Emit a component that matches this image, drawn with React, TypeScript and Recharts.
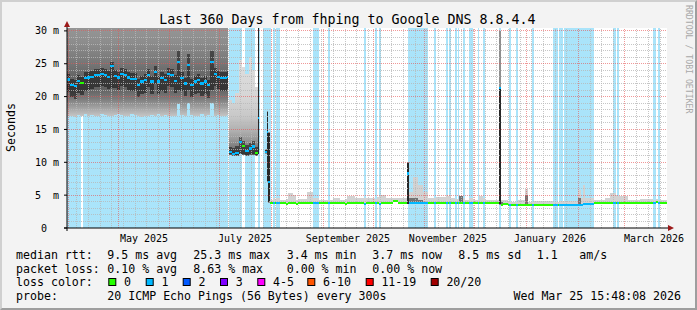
import React from 'react';
import { ComposedChart, Area, XAxis, YAxis, CartesianGrid, ReferenceLine, ReferenceDot } from 'recharts';

const W = 697;
const H = 310;
const FONT = '"DejaVu Sans Mono", monospace';
const Y_MAX = 30.44;
const X_MAX = 360;
const MEDIAN_HALF = 0.16;

const TITLE = 'Last 360 Days from fhping to Google DNS 8.8.4.4';
const Y_LABEL = 'Seconds';
const WATERMARK = 'RRDTOOL / TOBI OETIKER';

// ---------- axes ----------
const yTickValues = [0, 5, 10, 15, 20, 25, 30];
const yTickLabels = [' 0', '5  m', '10 m', '15 m', '20 m', '25 m', '30 m'];
const yMinorGrid = [1, 2, 3, 4, 6, 7, 8, 9, 11, 12, 13, 14, 16, 17, 18, 19, 21, 22, 23, 24, 26, 27, 28, 29];
const yMajorGrid = [5, 10, 15, 20, 25, 30];
// days since start of window (31 Mar 2025)
const xLabelDays = [46.2, 106.8, 168.6, 228.6, 289.8, 352.2];
const xLabels = ['May 2025', 'July 2025', 'September 2025', 'November 2025', 'January 2026', 'March 2026'];
const monthStartDays = [0.7, 30.7, 61.7, 91.7, 122.7, 153.7, 183.7, 214.7, 244.7, 275.7, 306.7, 334.7];
const weekGridDays = [5.8, 12.8, 19.8, 26.8, 33.8, 40.8, 47.8, 54.8, 68.8, 75.8, 82.8, 89.8, 96.8, 103.8, 110.8,
  117.8, 124.8, 131.8, 138.8, 145.8, 152.8, 159.8, 166.8, 173.8, 180.8, 187.8, 194.8, 201.8, 208.8, 215.8, 222.8,
  229.8, 236.8, 243.8, 250.8, 257.8, 264.8, 271.8, 278.8, 285.8, 292.8, 299.8, 313.8, 320.8, 327.8, 341.8, 348.8, 355.8];

// ---------- loss background bands (days) ----------
const lossBands = [
  [0, 8.4], [9.6, 96.8], [97.4, 105], [107, 113], [114.4, 116], [117.4, 122.2], [123.3, 124.5], [125.1, 127.5],
  [147.6, 151.2], [156.6, 157.8], [178.2, 179.4], [184.8, 186.0], [187.2, 188.4], [204.6, 216.6], [220.2, 221.4],
  [227.4, 228.6], [229.2, 230.4], [232.8, 234.0], [234.6, 235.2], [237.6, 238.8], [241.2, 243.6], [246.6, 247.2],
  [249.6, 250.8], [259.2, 260.4], [265.2, 266.4], [269.4, 270.6], [279.0, 280.2], [291.6, 294.6], [295.2, 297.6],
  [298.2, 316.2], [327.6, 329.4], [330.0, 331.2], [351.6, 353.4], [354.6, 355.8],
];

// ---------- region A (Apr - Jul 2025) ----------
const aEdges = [0, 2, 4, 6, 8, 10, 12, 14, 16, 18, 20, 22, 24, 26, 28, 30, 32, 34, 36, 38, 40, 42, 44, 46, 48, 50,
  52, 54, 56, 58, 60, 62, 64, 66, 68, 70, 72, 74, 76, 78, 80, 82, 84, 86, 88, 90, 92, 94, 96, 96.8];
const aMedian = [22.6, 21.8, 21.6, 22.4, 22.1, 22.8, 22.9, 23.0, 23.3, 23.3,
  23.5, 23.3, 23.0, 24.6, 23.2, 22.9, 23.5, 23.3, 22.9, 22.7,
  22.7, 21.8, 22.3, 22.5, 23.3, 22.3, 23.8, 22.3, 22.8, 22.5,
  23.5, 23.3, 22.4, 25.3, 22.8, 22.0, 24.8, 21.8, 22.3, 22.5,
  22.0, 22.3, 21.7, 25.3, 23.5, 23.0, 22.8, 22.8, 23.0];
const aMin = [17.1, 17.0, 16.9, 17.2, 17.0, 17.3, 17.1, 17.2, 17.0, 17.1,
  17.3, 17.2, 17.1, 17.0, 17.2, 17.3, 17.2, 17.0, 17.1, 17.3,
  17.2, 17.0, 16.9, 17.1, 17.0, 17.2, 17.1, 17.3, 17.0, 17.2,
  17.1, 17.0, 17.1, 18.9, 17.2, 17.1, 19.0, 17.2, 17.0, 17.1,
  17.3, 17.1, 17.2, 19.1, 17.0, 17.2, 17.1, 17.0, 17.2];
const aCoreLo = [20.7, 19.9, 19.7, 20.5, 20.2, 20.9, 21.0, 21.1, 21.4, 21.4,
  21.6, 21.4, 21.1, 21.3, 21.3, 21.0, 21.6, 21.4, 21.0, 20.8,
  20.8, 19.9, 20.4, 20.6, 21.4, 20.4, 21.9, 20.4, 20.9, 20.6,
  21.6, 21.4, 20.5, 21.0, 20.9, 20.1, 21.0, 19.9, 20.4, 20.6,
  20.1, 20.4, 19.8, 21.0, 21.6, 21.1, 20.9, 20.9, 21.1];
const aCoreHi = [23.5, 22.7, 22.5, 23.3, 23.0, 23.7, 23.8, 23.9, 24.2, 24.2,
  24.4, 24.2, 23.9, 25.2, 24.1, 23.8, 24.4, 24.2, 23.8, 23.6,
  23.6, 22.7, 23.2, 23.4, 24.2, 23.2, 24.7, 23.2, 23.7, 23.4,
  24.4, 24.2, 23.3, 27.0, 23.7, 22.9, 26.5, 22.7, 23.2, 23.4,
  22.9, 23.2, 22.6, 27.0, 24.4, 23.9, 23.7, 23.7, 23.9];
const aMax = [31, 31, 31, 31, 31, 31, 31, 31, 31, 31,
  31, 31, 31, 31, 31, 31, 31, 31, 31, 31,
  31, 31, 31, 31, 31, 31, 31, 31, 31, 31,
  31, 31, 31, 31, 31, 31, 31, 31, 31, 31,
  31, 31, 31, 31, 31, 31, 31, 31, 31];
const aLoss = [1, 1, 1, 1, 0, 1, 1, 1, 1, 1,
  1, 1, 1, 1, 1, 1, 1, 1, 1, 1,
  1, 1, 1, 1, 1, 1, 1, 1, 1, 1,
  1, 1, 1, 1, 1, 1, 1, 1, 1, 1,
  1, 1, 1, 1, 1, 1, 1, 1, 1];

// ---------- region B (Jul - Aug 2025) ----------
const bEdges = [96.8, 97.4, 99, 101, 103, 105, 107, 109, 111, 113, 114.4, 115.4, 118.8, 119.8, 120.8, 121.8];
const bKind = [null, 'B', 'B', 'B', 'B', 'B', 'B', 'B', 'B', 'B', 'S', null, 'S', 'S', 'S'];
const bMedian = [null, 11.6, 11.3, 11.4, 13.1, 12.5, 11.7, 12.1, 12.4, 11.4, 16.7, null, 11.5, 14.6, 7.0];
const bMin = [null, 11.1, 11.0, 11.0, 11.2, 11.1, 11.0, 11.1, 11.1, 11.0, 11.2, null, 11.3, 7.0, 3.8];
const bCoreLo = [null, 11.2, 11.1, 11.1, 11.3, 11.2, 11.1, 11.2, 11.2, 11.1, 11.3, null, 11.4, 7.2, 3.9];
const bCoreHi = [null, 12.4, 12.2, 12.5, 13.8, 13.3, 12.6, 13.0, 13.2, 12.3, 31, null, 11.8, 17.6, 14.5];
const bMax = [null, 19.5, 19.0, 20.5, 25.5, 24.5, 23.5, 26.0, 24.0, 21.5, 31, null, 12.0, 17.8, 14.6];
const bLoss = [null, 1, 1, 1, 1, 0, 1, 1, 1, 0, 1, null, 1, 1, 1];

// ---------- region C (Aug 2025 - Mar 2026) ----------
const cEdges = [121.8, 123.3, 124.5, 125.1, 127.5, 131.4, 132.6, 135.6, 137.4, 138.6,
  144.0, 147.6, 151.2, 156.6, 157.8, 159.6, 163.8, 166.8, 168.0, 172.8,
  178.2, 179.4, 184.8, 186.0, 187.2, 188.4, 191.4, 195.6, 198.6, 203.8,
  205.4, 207.6, 210.6, 213.6, 216.6, 220.2, 221.4, 227.4, 228.6, 229.2,
  230.4, 232.8, 234.0, 234.6, 235.2, 237.6, 238.8, 241.2, 243.6, 246.6,
  247.2, 249.6, 250.8, 259.2, 260.4, 261.8, 264.6, 265.2, 266.4, 269.4,
  270.6, 274.8, 276.6, 279.0, 280.2, 291.6, 294.6, 295.2, 306.6, 308.4,
  309.6, 310.5, 316.2, 322.8, 325.8, 327.6, 329.4, 330.0, 331.2, 336.6,
  343.8, 351.6, 353.4, 354.6, 355.8, 360];
const cSpikeColumns = [29, 53];
const cMedian = [3.85, 3.85, 3.85, 3.85, 3.85, 3.7, 3.85, 3.85, 3.7, 3.85,
  3.85, 3.85, 3.85, 3.85, 3.85, 3.85, 3.8, 3.7, 3.85, 3.85,
  3.7, 3.85, 3.85, 3.85, 3.7, 3.85, 3.85, 4.1, 3.8, 8.3,
  3.75, 3.75, 3.75, 3.75, 3.85, 3.8, 3.85, 3.75, 3.85, 3.75,
  3.85, 3.8, 3.85, 3.8, 3.85, 3.8, 3.85, 3.8, 3.85, 3.85,
  3.85, 3.85, 3.85, 21.3, 3.5, 3.65, 3.45, 3.45, 3.45, 3.45,
  3.45, 3.45, 3.45, 3.45, 3.45, 3.45, 3.45, 3.45, 3.45, 3.45,
  3.7, 3.7, 3.75, 3.75, 3.75, 3.75, 3.75, 3.75, 3.75, 3.75,
  3.75, 3.75, 4.0, 3.75, 3.75];
const cMin = [3.75, 3.75, 3.75, 3.75, 3.75, 3.6, 3.75, 3.75, 3.6, 3.75,
  3.75, 3.75, 3.75, 3.75, 3.75, 3.75, 3.7, 3.6, 3.75, 3.75,
  3.6, 3.75, 3.75, 3.75, 3.6, 3.75, 3.75, 3.9, 3.7, 3.6,
  3.65, 3.65, 3.65, 3.65, 3.75, 3.7, 3.75, 3.65, 3.75, 3.65,
  3.75, 3.7, 3.75, 3.7, 3.75, 3.7, 3.75, 3.7, 3.75, 3.75,
  3.75, 3.75, 3.75, 3.5, 3.4, 3.55, 3.35, 3.35, 3.35, 3.35,
  3.35, 3.35, 3.35, 3.35, 3.35, 3.35, 3.35, 3.35, 3.35, 3.35,
  3.6, 3.6, 3.65, 3.65, 3.65, 3.65, 3.65, 3.65, 3.65, 3.65,
  3.65, 3.65, 3.85, 3.65, 3.65];
const cMax = [4.2, 4.6, 4.4, 4.5, 4.2, 4.4, 5.3, 5.0, 4.3, 4.4,
  5.5, 4.6, 4.3, 4.3, 4.2, 4.5, 4.3, 4.4, 4.8, 4.6,
  4.5, 4.6, 4.4, 4.7, 4.8, 5.0, 4.5, 4.6, 4.5, 10.0,
  5.5, 7.8, 6.5, 5.5, 4.6, 4.5, 4.7, 5.0, 4.9, 5.0,
  4.5, 4.4, 4.4, 4.4, 4.9, 4.5, 4.3, 4.6, 4.3, 4.3,
  4.8, 4.5, 4.3, 30.0, 4.2, 4.2, 3.9, 4.0, 3.9, 3.9,
  4.25, 6.0, 4.0, 3.9, 4.1, 4.0, 4.0, 4.1, 5.8, 4.5,
  6.5, 4.6, 4.3, 4.5, 5.4, 5.4, 5.0, 4.9, 4.9, 4.3,
  4.4, 4.3, 4.4, 4.2, 4.2];
const cCoreLo = [null, null, null, null, null, null, null, null, null, null,
  null, null, null, null, null, null, null, null, null, null,
  null, null, null, null, null, null, null, null, null, 3.7,
  3.7, 3.7, 3.7, null, null, null, null, null, null, null,
  null, null, null, null, 3.8, null, null, null, null, null,
  null, null, null, 3.6, 3.45, null, null, null, null, null,
  null, 3.4, null, null, null, null, null, null, 3.4, null,
  null, null, null, null, null, null, null, null, null, null,
  null, null, null, null, null];
const cCoreHi = [null, null, null, null, null, null, null, null, null, null,
  null, null, null, null, null, null, null, null, null, null,
  null, null, null, null, null, null, null, null, null, 9.9,
  4.5, 4.6, 4.3, null, null, null, null, null, null, null,
  null, null, null, null, 4.8, null, null, null, null, null,
  null, null, null, 21.3, 3.9, null, null, null, null, null,
  null, 5.0, null, null, null, null, null, null, 4.5, null,
  null, null, null, null, null, null, null, null, null, null,
  null, null, null, null, null];
const cLoss = [0, 1, 0, 1, 0, 0, 0, 0, 0, 0,
  0, 1, 0, 1, 0, 0, 0, 0, 0, 0,
  1, 0, 1, 0, 1, 0, 0, 0, 0, 1,
  1, 1, 1, 1, 0, 1, 0, 1, 0, 1,
  0, 1, 0, 1, 0, 1, 0, 1, 0, 1,
  0, 1, 0, 1, 0, 0, 0, 1, 0, 1,
  0, 0, 0, 1, 0, 1, 0, 1, 1, 1,
  1, 1, 0, 0, 0, 1, 0, 1, 0, 0,
  0, 1, 0, 1, 0];

// ---------- legend ----------
const legendRowLabels = ['median rtt:', 'packet loss:', 'loss color:', 'probe:'];
const rttStats = ['9.5 ms avg', '25.3 ms max', '3.4 ms min', '3.7 ms now', '8.5 ms sd', '1.1', 'am/s'];
const lossStats = ['0.10 % avg', '8.63 % max', '0.00 % min', '0.00 % now'];
const lossColorLabels = ['0', '1', '2', '3', '4-5', '6-10', '11-19', '20/20'];
const lossColors = ['#26ff00', '#00b8ff', '#0059ff', '#7e00ff', '#ff00ff', '#ff5500', '#ff0000', '#a10000'];
const probeText = '20 ICMP Echo Pings (56 Bytes) every 300s';
const stampText = 'Wed Mar 25 15:48:08 2026';

// ---------- layout constants ----------
const STAT_X = [107.3, 193.3, 286.7, 372.3, 458.3, 536.7, 579.3];
const BOX_X = [108.3, 145.7, 182.7, 220.0, 257.3, 307.3, 365.7, 430.7];
const ROW_Y = [258.6, 272.5, 286.4, 300.3];
const BAND_COLOR = '#aae4fa';
const MINOR = '#b8b8b8';
const MAJOR = '#e65454';

type Col = {
  start: number; end: number; kind: string | null; min: number | null; coreLo: number | null;
  med: number | null; coreHi: number | null; max: number | null; loss: number | null;
};

function region(edges: number[], kind: (string | null)[], min: any[], coreLo: any[], med: any[], coreHi: any[], max: any[], loss: any[]): Col[] {
  const out: Col[] = [];
  for (let i = 0; i < edges.length - 1; i++) {
    out.push({ start: edges[i], end: edges[i + 1], kind: kind[i], min: min[i], coreLo: coreLo[i], med: med[i], coreHi: coreHi[i], max: max[i], loss: loss[i] });
  }
  return out;
}

const columns: Col[] = [
  ...region(aEdges, aMedian.map(() => 'A'), aMin, aCoreLo, aMedian, aCoreHi, aMax, aLoss),
  ...region(bEdges, bKind, bMin, bCoreLo, bMedian, bCoreHi, bMax, bLoss),
  ...region(cEdges, cMedian.map((_, i) => (cSpikeColumns.includes(i) ? 'S' : 'C')), cMin, cCoreLo, cMedian, cCoreHi, cMax, cLoss),
];

function buildTable() {
  const set = new Set<number>();
  columns.forEach((c) => { set.add(c.start); set.add(c.end); });
  lossBands.forEach(([a, b]) => { set.add(a); set.add(b); });
  const br = Array.from(set).sort((a, b) => a - b);
  const rows: any[] = [];
  for (let k = 0; k < br.length - 1; k++) {
    const u = br[k];
    const v = br[k + 1];
    const col = columns.find((c) => c.start <= u && u < c.end);
    const band = lossBands.some(([a, b]) => a <= u && u < b);
    const row = {
      band,
      kind: col ? col.kind : null,
      min: col ? col.min : null,
      coreLo: col ? col.coreLo : null,
      med: col ? col.med : null,
      coreHi: col ? col.coreHi : null,
      max: col ? col.max : null,
      loss: col ? col.loss : null,
    };
    rows.push({ x: u, ...row }, { x: v, ...row });
  }
  return rows;
}
const table = buildTable();

const outerOf = (k: string) => (p: any) => (p.kind === k && p.min != null ? [p.min, p.max] : null);
const coreOf = (spike: boolean) => (p: any) => (p.coreLo != null && (p.kind === 'S') === spike ? [p.coreLo, p.coreHi] : null);
const bandKey = (p: any) => (p.band ? [0, Y_MAX] : null);
const medianOf = (l: number) => (p: any) => (p.med != null && p.loss === l ? [p.med - MEDIAN_HALF, p.med + MEDIAN_HALF] : null);

const areaCommon = {
  type: 'linear' as const,
  stroke: 'none',
  isAnimationActive: false,
  dot: false,
  activeDot: false,
  connectNulls: false,
  fillOpacity: 1,
  legendType: 'none' as const,
  shapeRendering: 'crispEdges',
};

function YTick(props: any) {
  const { x, y, payload } = props;
  const idx = yTickValues.indexOf(payload.value);
  return (
    <text x={x - 24} y={y} dy="0.36em" fontSize={10} fontFamily={FONT} fill="#000" xmlSpace="preserve" style={{ whiteSpace: 'pre' }}>
      {yTickLabels[idx]}
    </text>
  );
}

const ARROW = '#9c1a1a';

function ArrowRight(props: any) {
  const { cx, cy } = props;
  return (
    <g>
      <path d={`M${cx},${cy}H${cx + 2}`} stroke="#000" />
      <path d={`M${cx + 1},${cy - 3}L${cx + 7},${cy}L${cx + 1},${cy + 3}Z`} fill={ARROW} />
    </g>
  );
}
function ArrowUp(props: any) {
  const { cx, cy } = props;
  return (
    <g>
      <path d={`M${cx},${cy}V${cy - 2}`} stroke="#000" />
      <path d={`M${cx - 3},${cy - 1}L${cx},${cy - 7}L${cx + 3},${cy - 1}Z`} fill={ARROW} />
    </g>
  );
}
function Origin(props: any) {
  const { cx, cy } = props;
  return <path d={`M${cx - 3},${cy}H${cx}M${cx},${cy}V${cy + 3}`} stroke="#000" fill="none" />;
}

export default function App() {
  return (
    <div style={{ position: 'absolute', left: 0, top: 0, width: W, height: H, background: '#f3f3f3', overflow: 'hidden' }}>
      <svg width={0} height={0} style={{ position: 'absolute' }}>
        <defs>
          <linearGradient id="smokeA" x1="0" y1="0" x2="0" y2="1">
            <stop offset="0" stopColor="#989898" />
            <stop offset="0.2" stopColor="#8c8c8c" />
            <stop offset="0.42" stopColor="#767676" />
            <stop offset="0.55" stopColor="#666666" />
            <stop offset="0.7" stopColor="#626262" />
            <stop offset="0.8" stopColor="#7a7a7a" />
            <stop offset="0.88" stopColor="#9a9a9a" />
            <stop offset="0.95" stopColor="#b5b5b5" />
            <stop offset="1" stopColor="#c8c8c8" />
          </linearGradient>
          <linearGradient id="smokeB" x1="0" y1="0" x2="0" y2="1">
            <stop offset="0" stopColor="#dedede" />
            <stop offset="0.4" stopColor="#d6d6d6" />
            <stop offset="0.6" stopColor="#c8c8c8" />
            <stop offset="0.75" stopColor="#afafaf" />
            <stop offset="0.85" stopColor="#939393" />
            <stop offset="0.93" stopColor="#747474" />
            <stop offset="1" stopColor="#5e5e5e" />
          </linearGradient>
        </defs>
      </svg>
      <div style={{ position: 'absolute', left: 0, top: 0 }}>
        <ComposedChart width={W} height={H} data={table} margin={{ top: 28, right: 30, bottom: 52, left: 0 }}>
          <CartesianGrid horizontal={false} vertical={false} fill="#ffffff" />
          <XAxis
            dataKey="x"
            type="number"
            domain={[0, X_MAX]}
            allowDataOverflow
            ticks={xLabelDays}
            interval={0}
            tickFormatter={(v: number) => xLabels[xLabelDays.indexOf(v)] ?? ''}
            tickLine={false}
            tickSize={0}
            tickMargin={7}
            height={30}
            axisLine={{ stroke: '#000' }}
            tick={{ fontSize: 10, fill: '#000', fontFamily: FONT }}
          />
          <YAxis
            type="number"
            domain={[0, Y_MAX]}
            allowDataOverflow
            ticks={yTickValues}
            interval={0}
            width={67}
            tickSize={3}
            tickMargin={5}
            tickLine={{ stroke: '#000' }}
            axisLine={{ stroke: '#000' }}
            tick={(p: any) => <YTick {...p} />}
          />
          <Area {...areaCommon} dataKey={bandKey} fill={BAND_COLOR} />
          <Area {...areaCommon} dataKey={outerOf('A')} fill="url(#smokeA)" />
          <Area {...areaCommon} dataKey={outerOf('B')} fill="url(#smokeB)" />
          <Area {...areaCommon} dataKey={outerOf('C')} fill="#d2d2d2" />
          <Area {...areaCommon} dataKey={outerOf('S')} fill="#8e8e8e" />
          <Area {...areaCommon} dataKey={coreOf(false)} fill="#000" fillOpacity={0.45} />
          <Area {...areaCommon} dataKey={coreOf(true)} fill="#000" fillOpacity={0.72} />
          {yMinorGrid.map((v) => (
            <ReferenceLine key={'ym' + v} y={v} stroke={MINOR} strokeOpacity={0.8} strokeDasharray="1 1" shapeRendering="crispEdges" zIndex={450} />
          ))}
          {weekGridDays.map((v) => (
            <ReferenceLine key={'xm' + v} x={v} stroke={MINOR} strokeOpacity={0.8} strokeDasharray="1 1" shapeRendering="crispEdges" zIndex={450} />
          ))}
          {yMajorGrid.map((v) => (
            <ReferenceLine key={'yM' + v} y={v} stroke={MAJOR} strokeOpacity={0.6} strokeDasharray="1 1" shapeRendering="crispEdges" zIndex={451} />
          ))}
          {monthStartDays.map((v) => (
            <ReferenceLine key={'xM' + v} x={v} stroke={MAJOR} strokeOpacity={0.6} strokeDasharray="1 1" shapeRendering="crispEdges" zIndex={451} />
          ))}
          <Area {...areaCommon} dataKey={medianOf(0)} fill={lossColors[0]} zIndex={460} />
          <Area {...areaCommon} dataKey={medianOf(1)} fill={lossColors[1]} zIndex={461} />
          <ReferenceDot x={X_MAX} y={0} r={0} ifOverflow="visible" shape={(p: any) => <ArrowRight {...p} />} zIndex={600} />
          <ReferenceDot x={0} y={Y_MAX} r={0} ifOverflow="visible" shape={(p: any) => <ArrowUp {...p} />} zIndex={600} />
          <ReferenceDot x={0} y={0} r={0} ifOverflow="visible" shape={(p: any) => <Origin {...p} />} zIndex={600} />
        </ComposedChart>
      </div>
      <svg width={W} height={H} style={{ position: 'absolute', left: 0, top: 0, pointerEvents: 'none' }} fontFamily={FONT}>
        <text x={347.5} y={24} fontSize={13.3} textAnchor="middle" fill="#000">{TITLE}</text>
        <text transform="translate(15,127.5) rotate(-90)" fontSize={11.6} textAnchor="middle" fill="#000">{Y_LABEL}</text>
        <text transform="translate(686,5) rotate(90)" fontSize={8.2} fill="#a8a8a8">{WATERMARK}</text>
        {legendRowLabels.map((t, i) => (
          <text key={'rl' + i} x={16} y={ROW_Y[i]} fontSize={11.6} fill="#000">{t}</text>
        ))}
        {rttStats.map((t, i) => (
          <text key={'rs' + i} x={STAT_X[i]} y={ROW_Y[0]} fontSize={11.6} fill="#000">{t}</text>
        ))}
        {lossStats.map((t, i) => (
          <text key={'ls' + i} x={STAT_X[i]} y={ROW_Y[1]} fontSize={11.6} fill="#000">{t}</text>
        ))}
        {lossColorLabels.map((t, i) => (
          <g key={'lc' + i}>
            <rect x={BOX_X[i] + 0.5} y={278.5} width={7} height={7} fill={lossColors[i]} stroke="#000" strokeWidth={1} />
            <text x={BOX_X[i] + 15.7} y={ROW_Y[2]} fontSize={11.6} fill="#000">{t}</text>
          </g>
        ))}
        <text x={STAT_X[0]} y={ROW_Y[3]} fontSize={11.6} fill="#000">{probeText}</text>
        <text x={681} y={ROW_Y[3]} fontSize={11.6} fill="#000" textAnchor="end">{stampText}</text>
      </svg>
      <div
        style={{
          position: 'absolute', left: 0, top: 0, width: W, height: H, boxSizing: 'border-box', pointerEvents: 'none',
          borderTop: '2px solid #d0d0d0', borderLeft: '2px solid #d0d0d0', borderRight: '2px solid #9e9e9e', borderBottom: '2px solid #9e9e9e',
        }}
      />
    </div>
  );
}
